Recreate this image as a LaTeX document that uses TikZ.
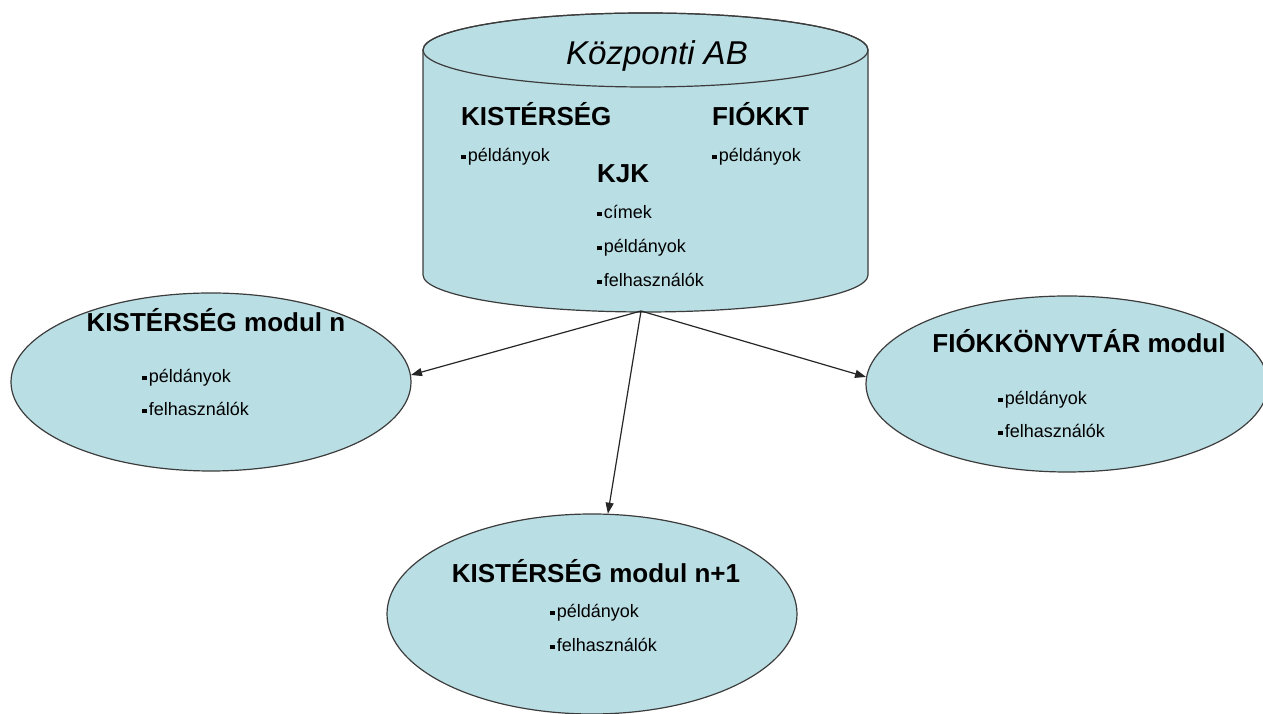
\documentclass[tikz,border=0pt]{standalone}
\usepackage{fontspec}
\setmainfont{Liberation Sans}
\usetikzlibrary{shapes.geometric, arrows.meta, positioning}

\definecolor{abkek}{RGB}{185,222,228}
\definecolor{vonal}{RGB}{60,60,60}
\newcommand{\pont}{\rule[0.15em]{0.25em}{0.25em}\hspace{0.12em}}

\tikzset{
  modul/.style={ellipse, draw=vonal, fill=abkek, line width=1.2pt, inner sep=0pt},
  cim/.style={font=\bfseries\fontsize{26}{30}\selectfont, inner sep=0pt, anchor=base},
  tetel/.style={font=\fontsize{18}{20}\selectfont, inner sep=0pt, anchor=base west},
  nyil/.style={-{Triangle[length=11pt,width=8pt]}, line width=1.2pt, draw=black!85}
}

\begin{document}
\begin{tikzpicture}[x=1pt, y=1pt]
  \useasboundingbox (0,0) rectangle (1263,714);

  % kozponti adatbazis (henger)
  \filldraw[draw=vonal, fill=abkek, line width=1.2pt]
    (423,664) -- (423,439) arc[start angle=180, end angle=360, x radius=222.5, y radius=37]
    -- (868,664) arc[start angle=0, end angle=180, x radius=222.5, y radius=37] -- cycle;
  \draw[draw=vonal, line width=1.2pt] (645.5,664) ellipse[x radius=222.5, y radius=37];
  \coordinate (ab) at (641,403);

  \node[anchor=base, inner sep=0pt, font=\itshape\fontsize{33}{36}\selectfont] (kozp) at (657,649) {Központi AB};
  \node[cim, anchor=base west] (kist) at (461,588) {KISTÉRSÉG};
  \node[cim, anchor=base west] (fiokkt) at (712,588) {FIÓKKT};
  \node[cim, anchor=base west] (kjk) at (597,531) {KJK};
  \node[tetel] (kist-p) at (461,552) {\pont példányok};
  \node[tetel] (fiokkt-p) at (712,552) {\pont példányok};
  \node[tetel] (kjk-c) at (597,495) {\pont címek};
  \node[tetel] (kjk-p) at (597,461) {\pont példányok};
  \node[tetel] (kjk-f) at (597,427) {\pont felhasználók};

  % modulok
  \node[modul, minimum width=400pt, minimum height=178pt] (modn) at (211,332) {};
  \node[modul, minimum width=402pt, minimum height=176pt] (fiok) at (1067,330) {};
  \node[modul, minimum width=410pt, minimum height=200pt] (modn1) at (592,100) {};

  \node[cim] (modn-cim) at (216,382) {KISTÉRSÉG modul n};
  \node[tetel] (modn-p) at (142,331) {\pont példányok};
  \node[tetel] (modn-f) at (142,298) {\pont felhasználók};

  \node[cim] (fiok-cim) at (1079,361) {FIÓKKÖNYVTÁR modul};
  \node[tetel] (fiok-p) at (998,309) {\pont példányok};
  \node[tetel] (fiok-f) at (998,276) {\pont felhasználók};

  \node[cim] (modn1-cim) at (596,131) {KISTÉRSÉG modul n+1};
  \node[tetel] (modn1-p) at (550,96) {\pont példányok};
  \node[tetel] (modn1-f) at (550,62) {\pont felhasználók};

  % nyilak
  \draw[nyil] (ab) -- (modn.2);
  \draw[nyil] (ab) -- (fiok.178);
  \draw[nyil] (ab) -- (modn1.81);
\end{tikzpicture}
\end{document}
